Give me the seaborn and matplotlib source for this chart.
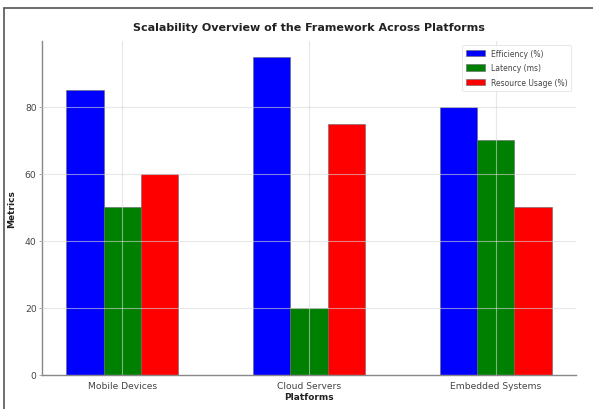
import matplotlib
matplotlib.use("Agg")
import matplotlib.pyplot as plt
import seaborn as sns
import pandas as pd
from matplotlib.lines import Line2D

platforms = ["Mobile Devices", "Cloud Servers", "Embedded Systems"]
efficiency = [85, 95, 80]
latency = [50, 20, 70]
resource_usage = [60, 75, 50]
series_names = ["Efficiency (%)", "Latency (ms)", "Resource Usage (%)"]
series_colors = ["#0000ff", "#008000", "#ff0000"]

df = pd.DataFrame({
    "Platform": platforms * 3,
    "Metric": [series_names[0]] * 3 + [series_names[1]] * 3 + [series_names[2]] * 3,
    "Value": efficiency + latency + resource_usage,
})

sns.set_theme(style="whitegrid")
plt.rcParams["font.family"] = ["DejaVu Sans"]

fig = plt.figure(figsize=(5.93, 4.10), dpi=100)
ax = fig.add_axes([0.071, 0.083, 0.900, 0.815])

sns.barplot(data=df, x="Platform", y="Value", hue="Metric",
            palette=series_colors, width=0.6, ax=ax,
            edgecolor="#666666", linewidth=0.4, saturation=1)

ax.set_xlim(-0.43, 2.43)
ax.set_ylim(0, 99.75)
ax.set_yticks([0, 20, 40, 60, 80])
ax.set_axisbelow(False)
ax.grid(True, color="#d8d8d8", linewidth=0.8, alpha=0.6)

ax.set_title("Scalability Overview of the Framework Across Platforms",
             fontsize=8, fontweight="bold", color="#222222", pad=8)
ax.set_xlabel("Platforms", fontsize=6.5, fontweight="bold", color="#222222", labelpad=2)
ax.set_ylabel("Metrics", fontsize=6.5, fontweight="bold", color="#222222", labelpad=6)
ax.tick_params(axis="both", labelsize=6.6, colors="#444444", length=2, pad=2)
ax.tick_params(axis="y", left=True, width=0.6, color="#999999")

for side in ["top", "right"]:
    ax.spines[side].set_visible(False)
for side in ["left", "bottom"]:
    ax.spines[side].set_color("#888888")
    ax.spines[side].set_linewidth(1.0)

leg = ax.legend(loc="upper right", fontsize=5.5, frameon=True, title=None,
                handlelength=2.4, handleheight=0.9, borderpad=0.55,
                labelspacing=0.7, bbox_to_anchor=(0.999, 1.0))
leg.get_frame().set_edgecolor("#dddddd")
leg.get_frame().set_linewidth(0.6)
for t in leg.get_texts():
    t.set_color("#444444")

# frame lines along the top and left edges of the figure
fig.add_artist(Line2D([0.007, 1.0], [0.978, 0.978], transform=fig.transFigure,
                      color="#555555", linewidth=1.2))
fig.add_artist(Line2D([0.007, 0.007], [0.0, 0.978], transform=fig.transFigure,
                      color="#555555", linewidth=1.2))

fig.savefig("out.png", dpi=100)
